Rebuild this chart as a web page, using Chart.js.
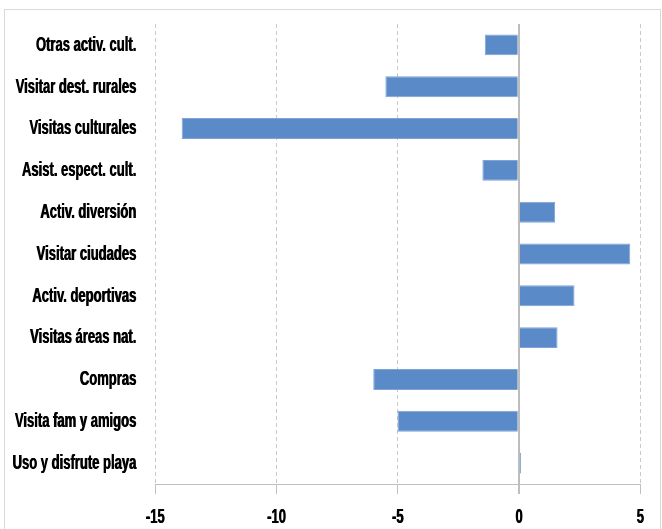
<!DOCTYPE html>
<html>
<head>
<meta charset="utf-8">
<script src="https://cdn.jsdelivr.net/npm/chart.js@4"></script>
<style>
  html, body { margin: 0; padding: 0; background: #fff; }
  #frame { position: absolute; left: 4px; top: 9px; width: 655px; height: 540px; border: 1px solid #d9d9d9; }
  #wrap { position: absolute; left: 0; top: 0; width: 662px; height: 529px; }
</style>
</head>
<body>
<div id="frame"></div>
<div id="wrap"><canvas id="chart" width="662" height="529"></canvas></div>
<script>
const categories = [
  'Otras activ. cult.',
  'Visitar dest. rurales',
  'Visitas culturales',
  'Asist. espect. cult.',
  'Activ. diversión',
  'Visitar ciudades',
  'Activ. deportivas',
  'Visitas áreas nat.',
  'Compras',
  'Visita fam y amigos',
  'Uso y disfrute playa'
];
const values = [-1.4, -5.5, -13.9, -1.5, 1.5, 4.6, 2.3, 1.6, -6.0, -5.0, 0.1];
const xTicks = [-15, -10, -5, 0, 5];

const labelFont = { family: "'Liberation Sans', Arial, sans-serif", weight: 'bold', size: 21 };

// squeeze + thicken text to get the heavy condensed look of the original
const canvas = document.getElementById('chart');
const c2d = canvas.getContext('2d');
const origFill = c2d.fillText;
c2d.fillText = function (t, x, y, mw) {
  this.save();
  this.translate(x, y);
  this.scale(0.62, 1);
  origFill.call(this, t, 0, 0);
  origFill.call(this, t, 1, 0);
  this.restore();
};

new Chart(canvas, {
  type: 'bar',
  data: {
    labels: categories,
    datasets: [{
      data: values,
      backgroundColor: '#5b8ac8',
      borderColor: '#7fa3d6',
      borderWidth: 1,
      borderSkipped: 'start',
      categoryPercentage: 1,
      barPercentage: 0.5
    }]
  },
  options: {
    indexAxis: 'y',
    responsive: false,
    animation: false,
    layout: { padding: { top: 24, right: 22, left: 0, bottom: 0 } },
    plugins: { legend: { display: false }, tooltip: { enabled: false } },
    scales: {
      x: {
        min: xTicks[0],
        max: xTicks[xTicks.length - 1],
        afterBuildTicks: s => { s.ticks = xTicks.map(v => ({ value: v })); },
        afterFit: s => { s.height = 45; s.paddingLeft = 0; s.paddingRight = 0; },
        ticks: { color: '#000', font: labelFont, padding: 11 },
        grid: {
          color: c => c.tick && c.tick.value === 0 ? '#bdbdbd' : '#c9c9c9',
          lineWidth: c => c.tick && c.tick.value === 0 ? 2 : 1,
          tickColor: '#bfbfbf',
          tickLength: 10,
          tickBorderDash: []
        },
        border: {
          display: true,
          color: '#bfbfbf',
          width: 1,
          dash: c => c.tick && c.tick.value === 0 ? [] : [4, 3]
        }
      },
      y: {
        afterFit: s => { s.width = 155; s.paddingTop = 0; s.paddingBottom = 0; },
        ticks: { color: '#000', font: labelFont, padding: 19 },
        grid: { display: false, drawTicks: false },
        border: { display: false }
      }
    }
  }
});
</script>
</body>
</html>
